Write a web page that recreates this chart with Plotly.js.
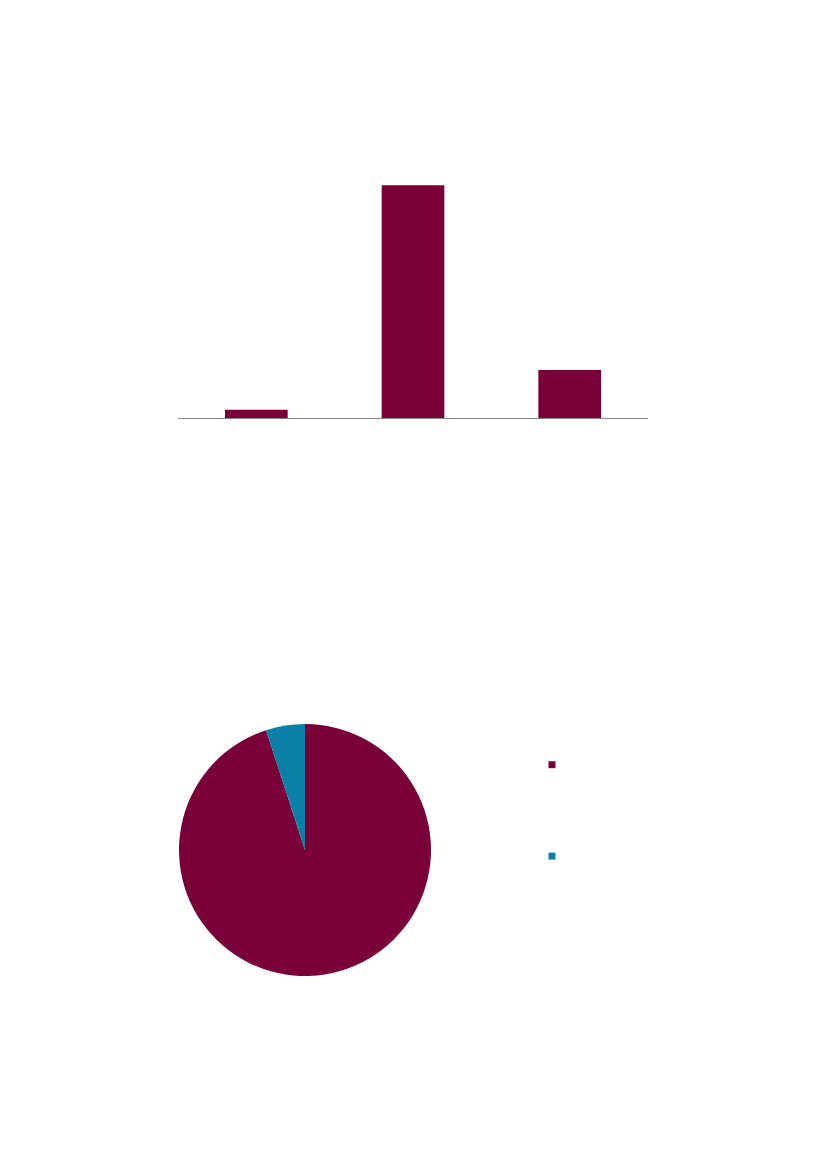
<!DOCTYPE html>
<html>
<head>
<meta charset="utf-8">
<script src="https://cdn.plot.ly/plotly-3.0.1.min.js"></script>
<style>
  html, body { margin: 0; padding: 0; background: #fff; }
  #chart { width: 827px; height: 1169px; }
</style>
</head>
<body>
<div id="chart"></div>
<script>
// bar chart (no labels shown in the picture)
let barCategories = ["a", "b", "c"];
let barValues = [3.5, 100, 20.6];

// pie chart
let pieLabels = ["p1", "p2"];
let pieValues = [95, 5];

let maroon = "#7A0039";
let teal = "#0A80A6";
let pieColors = [maroon, teal];

let bars = {
    type: "bar",
    x: barCategories,
    y: barValues,
    width: 0.4,
    marker: {color: maroon, line: {width: 0}},
    showlegend: false,
    hoverinfo: "none"
};

let pie = {
    type: "pie",
    labels: pieLabels,
    values: pieValues,
    sort: false,
    direction: "clockwise",
    rotation: 0,
    textinfo: "none",
    marker: {colors: pieColors, line: {width: 0}},
    domain: {x: [179/827, 431/827], y: [1 - 976/1169, 1 - 724/1169]},
    showlegend: false,
    hoverinfo: "none"
};

// legend entries for the pie slices, small squares like the original
let legendItems = pieLabels.map((lab, i)=>{
    return {
        type: "scatter",
        mode: "markers",
        x: [null],
        y: [null],
        name: " ",
        marker: {symbol: "square", size: 7, color: pieColors[i]},
        showlegend: true,
        hoverinfo: "none"
    };
});

let layout = {
    width: 827,
    height: 1169,
    margin: {l: 0, r: 0, t: 0, b: 0},
    paper_bgcolor: "#fff",
    plot_bgcolor: "rgba(0,0,0,0)",
    xaxis: {
        domain: [178/827, 648/827],
        showline: true,
        linecolor: "#888",
        linewidth: 1,
        showticklabels: false,
        ticks: "",
        showgrid: false,
        zeroline: false,
        fixedrange: true
    },
    yaxis: {
        domain: [1 - 418/1169, 1 - 140/1169],
        range: [0, 119.5],
        visible: false,
        showgrid: false,
        zeroline: false,
        fixedrange: true
    },
    legend: {
        x: 532/827,
        y: 1 - 714/1169,
        xanchor: "left",
        yanchor: "top",
        font: {size: 68, family: "Liberation Sans"},
        bgcolor: "rgba(0,0,0,0)",
        borderwidth: 0
    },
    showlegend: true
};

Plotly.newPlot("chart", [bars, pie].concat(legendItems), layout, {displayModeBar: false, staticPlot: true});
</script>
</body>
</html>
